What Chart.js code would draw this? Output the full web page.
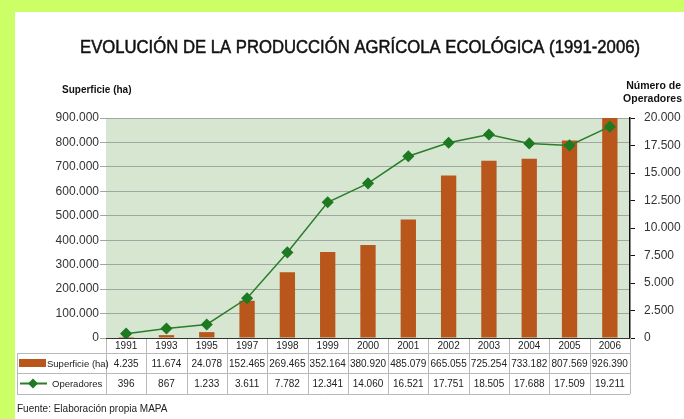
<!DOCTYPE html>
<html>
<head>
<meta charset="utf-8">
<script src="https://cdn.jsdelivr.net/npm/chart.js@4"></script>
<style>
  html, body { margin: 0; padding: 0; background: #ccff66; }
  #paper { position: absolute; left: 15px; top: 12px; width: 669px; height: 407px; background: #fff; }
  #myChart { position: absolute; left: 0; top: 0; }
</style>
</head>
<body>
<div id="paper"></div>
<canvas id="myChart" width="684" height="419"></canvas>
<script>
// datos
const years = ["1991", "1993", "1995", "1997", "1998", "1999", "2000", "2001", "2002", "2003", "2004", "2005", "2006"];
const superficie = [4235, 11674, 24078, 152465, 269465, 352164, 380920, 485079, 665055, 725254, 733182, 807569, 926390];
const operadores = [396, 867, 1233, 3611, 7782, 12341, 14060, 16521, 17751, 18505, 17688, 17509, 19211];

const barColor = "#b9561b";
const lineColor = "#2b7d2b";
const dotColor = "#1d7a22";

// 152465 -> "152.465"
function fmt(n) {
  return String(Math.round(n)).replace(/\B(?=(\d{3})+(?!\d))/g, ".");
}

const plotBg = {
  id: "plotBg",
  beforeDraw(chart) {
    const { ctx, chartArea: a } = chart;
    ctx.save();
    ctx.fillStyle = "#d6e6d0";
    ctx.fillRect(a.left, a.top, a.right - a.left, a.bottom - a.top);
    ctx.restore();
  },
};

const extras = {
  id: "extras",
  afterDraw(chart) {
    const { ctx, chartArea: a, scales } = chart;
    const x = scales.x;
    const colW = (a.right - a.left) / years.length;
    const rows = [a.bottom, a.bottom + 15, a.bottom + 35, a.bottom + 56];
    const tLeft = 17;
    ctx.save();

    // title
    ctx.fillStyle = "#111";
    ctx.strokeStyle = "#111";
    ctx.lineWidth = 0.5;
    ctx.textBaseline = "middle";
    ctx.font = '18px "Liberation Sans", Arial, sans-serif';
    const title = "EVOLUCIÓN DE LA PRODUCCIÓN AGRÍCOLA ECOLÓGICA (1991-2006)";
    const tw = ctx.measureText(title).width;
    ctx.save();
    ctx.translate(360, 48);
    ctx.scale(560 / tw, 1);
    ctx.textAlign = "center";
    ctx.fillText(title, 0, 0);
    ctx.strokeText(title, 0, 0);
    ctx.restore();

    // axis titles
    ctx.font = 'bold 10px "Liberation Sans", Arial, sans-serif';
    ctx.textAlign = "left";
    ctx.fillText("Superficie (ha)", 62, 90);
    ctx.textAlign = "right";
    ctx.font = 'bold 10.5px "Liberation Sans", Arial, sans-serif';
    ctx.fillText("Número de", 681, 86);
    ctx.fillText("Operadores", 682, 99);

    // table lines
    ctx.strokeStyle = "#b9b9b9";
    ctx.lineWidth = 1;
    ctx.beginPath();
    for (let r = 1; r < rows.length; r++) {
      ctx.moveTo(tLeft, rows[r] + 0.5);
      ctx.lineTo(a.right, rows[r] + 0.5);
    }
    for (let i = 0; i <= years.length; i++) {
      const xx = Math.round(a.left + i * colW) + 0.5;
      ctx.moveTo(xx, rows[0]);
      ctx.lineTo(xx, rows[3]);
    }
    ctx.moveTo(tLeft + 0.5, rows[1]);
    ctx.lineTo(tLeft + 0.5, rows[3]);
    ctx.stroke();

    // base line of plot
    ctx.strokeStyle = "#333";
    ctx.beginPath();
    ctx.moveTo(a.left, a.bottom + 0.5);
    ctx.lineTo(a.right, a.bottom + 0.5);
    ctx.stroke();

    // table text
    ctx.fillStyle = "#222";
    ctx.textAlign = "center";
    ctx.font = '10px "Liberation Sans", Arial, sans-serif';
    years.forEach((y, i) => {
      const cx = x.getPixelForValue(i);
      ctx.fillText(y, cx, (rows[0] + rows[1]) / 2 + 1);
      ctx.fillText(fmt(superficie[i]), cx, (rows[1] + rows[2]) / 2 + 1);
      ctx.fillText(fmt(operadores[i]), cx, (rows[2] + rows[3]) / 2 + 1);
    });

    // row headers
    const r1 = (rows[1] + rows[2]) / 2;
    const r2 = (rows[2] + rows[3]) / 2;
    ctx.fillStyle = barColor;
    ctx.fillRect(19, r1 - 4, 27, 8);
    ctx.strokeStyle = lineColor;
    ctx.lineWidth = 2;
    ctx.beginPath();
    ctx.moveTo(20, r2);
    ctx.lineTo(47, r2);
    ctx.stroke();
    ctx.fillStyle = dotColor;
    ctx.beginPath();
    ctx.moveTo(33, r2 - 5);
    ctx.lineTo(38, r2);
    ctx.lineTo(33, r2 + 5);
    ctx.lineTo(28, r2);
    ctx.closePath();
    ctx.fill();

    ctx.fillStyle = "#222";
    ctx.textAlign = "left";
    ctx.font = '9.5px "Liberation Sans", Arial, sans-serif';
    ctx.fillText("Superficie (ha)", 47, r1 + 1);
    ctx.fillText("Operadores", 52, r2 + 1);

    // source
    ctx.font = '10px "Liberation Sans", Arial, sans-serif';
    ctx.fillText("Fuente: Elaboración propia MAPA", 17, 409);

    ctx.restore();
  },
};

const config = {
  data: {
    labels: years,
    datasets: [
      {
        type: "line",
        label: "Operadores",
        data: operadores,
        yAxisID: "y1",
        order: 0,
        borderColor: lineColor,
        borderWidth: 1.5,
        tension: 0,
        pointStyle: "rectRot",
        pointRadius: 5,
        pointBackgroundColor: dotColor,
        pointBorderColor: dotColor,
      },
      {
        type: "bar",
        label: "Superficie (ha)",
        data: superficie,
        yAxisID: "y",
        order: 1,
        backgroundColor: barColor,
        barPercentage: 0.38,
        categoryPercentage: 1,
      },
    ],
  },
  options: {
    responsive: false,
    animation: false,
    devicePixelRatio: 1,
    layout: { padding: { top: 118, bottom: 81, left: 0, right: 0 } },
    plugins: { legend: { display: false }, tooltip: { enabled: false } },
    scales: {
      x: { display: false, offset: true },
      y: {
        position: "left",
        min: 0,
        max: 900000,
        afterFit: (s) => { s.width = 106; },
        ticks: {
          stepSize: 100000,
          callback: (v) => fmt(v),
          color: "#333",
          padding: 1,
          font: { family: "Liberation Sans", size: 12 },
        },
        grid: { color: "#9fa89f", tickLength: 6 },
        border: { display: false },
      },
      y1: {
        position: "right",
        min: 0,
        max: 20000,
        afterFit: (s) => { s.width = 54; },
        ticks: {
          stepSize: 2500,
          callback: (v) => fmt(v),
          color: "#333",
          padding: 9,
          font: { family: "Liberation Sans", size: 12 },
        },
        grid: { drawOnChartArea: false, color: "#111", tickLength: 5 },
        border: { display: true, color: "#111", width: 1.5 },
      },
    },
  },
  plugins: [plotBg, extras],
};

var myChart = new Chart(document.getElementById("myChart"), config);
</script>
</body>
</html>
